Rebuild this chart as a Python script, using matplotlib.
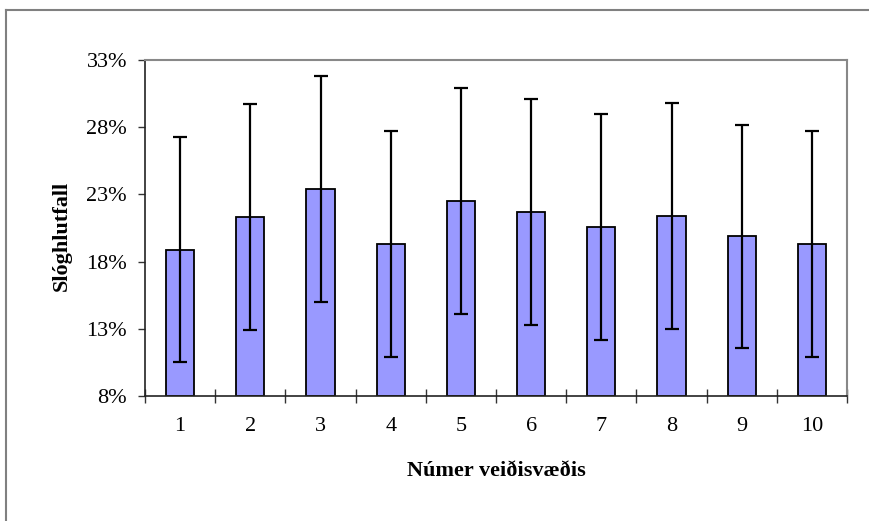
import matplotlib
matplotlib.use("Agg")
import matplotlib.pyplot as plt
from matplotlib.lines import Line2D

# Mean discard ratio (%) per fishing area, with standard deviation
areas = ["1", "2", "3", "4", "5", "6", "7", "8", "9", "10"]
means = [18.9, 21.3, 23.4, 19.3, 22.5, 21.7, 20.6, 21.4, 19.9, 19.3]
errors = [8.4, 8.4, 8.4, 8.4, 8.4, 8.4, 8.4, 8.4, 8.3, 8.4]
yticks = [8, 13, 18, 23, 28, 33]
ytick_labels = ["8%", "13%", "18%", "23%", "28%", "33%"]

plt.rcParams["font.family"] = ["Liberation Serif", "DejaVu Serif"]

fig = plt.figure(figsize=(8.69, 5.21), dpi=100)
ax = fig.add_axes([145 / 869, 1 - 396 / 521, (847 - 145) / 869, (396 - 60) / 521])

x = list(range(len(areas)))
ax.bar(x, [m - 8 for m in means], bottom=8, width=0.4, color="#9999FF",
       edgecolor="black", linewidth=1.3, zorder=2)
ax.errorbar(x, means, yerr=errors, fmt="none", ecolor="black",
            elinewidth=1.6, capsize=4.7, capthick=1.6, zorder=3)

ax.set_xlim(-0.5, len(areas) - 0.5)
ax.set_ylim(8, 33)
ax.set_yticks(yticks)
ax.set_yticklabels(ytick_labels, fontsize=16)
ax.set_xticks(x)
ax.set_xticklabels(areas, fontsize=16)
ax.tick_params(axis="x", length=0, pad=15)
ax.tick_params(axis="y", direction="out", length=5, width=1, color="#333333", pad=8)

# Category separator ticks on the x axis, crossing the axis line
ax.set_xticks([i + 0.5 for i in range(-1, len(areas))], minor=True)
ax.tick_params(axis="x", which="minor", direction="inout", length=10, width=1, color="#333333")

for side in ("left", "bottom"):
    ax.spines[side].set_color("#222222")
    ax.spines[side].set_linewidth(1.2)
for side in ("top", "right"):
    ax.spines[side].set_color("#888888")
    ax.spines[side].set_linewidth(1.5)

fig.text(62 / 869, 1 - 236 / 521, "Slóghlutfall", rotation=90, fontsize=16,
         fontweight="bold", ha="center", va="center")
fig.text(496 / 869, 1 - 471 / 521, "Númer veiðisvæðis", fontsize=16,
         fontweight="bold", ha="center", va="center")

# Chart frame (left and top edges)
fig.add_artist(Line2D([6 / 869, 6 / 869], [0, 1 - 10 / 521], transform=fig.transFigure,
                      color="#808080", linewidth=1.5))
fig.add_artist(Line2D([6 / 869, 1], [1 - 10 / 521, 1 - 10 / 521], transform=fig.transFigure,
                      color="#808080", linewidth=1.5))

fig.savefig("out.png", dpi=100)
